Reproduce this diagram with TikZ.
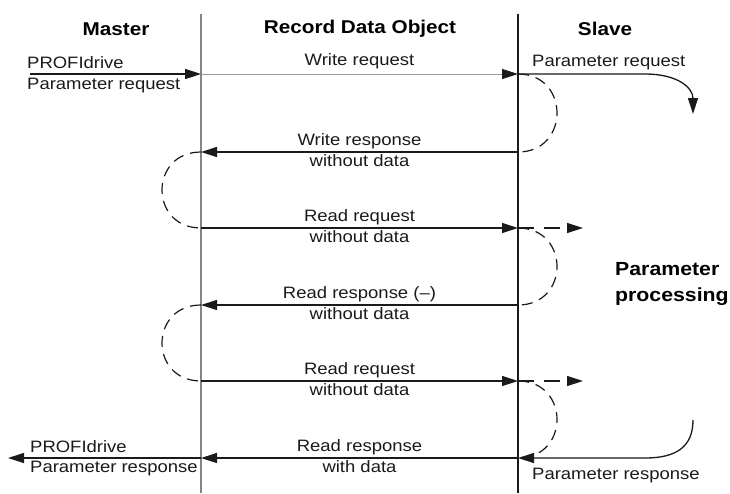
\documentclass[tikz,border=0pt]{standalone}
\usepackage{fontspec}
\setmainfont{Liberation Sans}[FakeStretch=1.12]
\usepackage{tikz}
\usetikzlibrary{arrows.meta, positioning}
\definecolor{lifegray}{HTML}{858585}
\definecolor{reqgray}{HTML}{9a9a9a}
\definecolor{ink}{HTML}{1a1a1a}
\tikzset{
    lifeline/.style={line width=1.5pt},
    conn/.style={
        ink, line width=1.3pt,
        -{Triangle[length=16pt, width=10pt, color=ink]},
    },
    loopback/.style={ink, line width=1.2pt, dash pattern=on 11pt off 7pt},
    probe/.style={ink, line width=1.2pt, dash pattern=on 16pt off 10pt,
        -{Triangle[length=16pt, width=10pt]}},
    head/.style={font=\fontsize{18.5}{22}\selectfont\bfseries, inner sep=0pt},
    lbl/.style={font=\fontsize{16.5}{21}\selectfont, align=center, inner sep=0pt, text=ink},
    side/.style={lbl, align=left, anchor=west},
}

\begin{document}
\begin{tikzpicture}[x=1pt, y=-1pt]
    \useasboundingbox (0,0) rectangle (730,493);

    % lifelines and message rows
    \coordinate (mtop) at (201,14);
    \coordinate (mbot) at (201,493);
    \coordinate (stop) at (518,14);
    \coordinate (sbot) at (518,493);
    \foreach \n/\y in {1/74,2/152,3/228,4/305,5/381,6/458} {
        \coordinate (m\n) at (201,\y);
        \coordinate (s\n) at (518,\y);
    }
    \draw[lifeline, lifegray] (mtop) -- (mbot);
    \draw[lifeline, ink] (stop) -- (sbot);

    \node[head] (master) at (116,29) {Master};
    \node[head] (rdo) at (360,29) {Record Data Object};
    \node[head] (slave) at (605,29) {Slave};

    % write request
    \coordinate (pin) at (30,74);
    \draw[conn, line width=1.6pt] (pin) -- (m1);
    \node[side] (pinA) at (27,63) {PROFIdrive};
    \node[side] (pinB) at (27,86) {Parameter request};
    \draw[conn, reqgray, line width=1pt] (m1) -- (s1) node[lbl, midway, above=5pt] (wreq) {Write request};
    \coordinate (sq) at (693,114);
    \draw[conn] (s1) -- (645,74) .. controls (678,74) and (693,88) .. (sq);
    \node[side] (sreq) at (532,63) {Parameter request};

    % responses and polls
    \draw[conn] (s2) -- (m2) node[lbl, midway, yshift=2pt] (wresp) {Write response\\without data};
    \draw[conn] (m3) -- (s3) node[lbl, midway, yshift=2pt] (rreqA) {Read request\\without data};
    \draw[conn] (s4) -- (m4) node[lbl, midway, yshift=2pt] (rrespA) {Read response (–)\\without data};
    \draw[conn] (m5) -- (s5) node[lbl, midway, yshift=2pt] (rreqB) {Read request\\without data};
    \draw[conn] (s6) -- (m6) node[lbl, midway, yshift=2pt] (rrespB) {Read response\\with data};

    \coordinate (p3) at (583,228);
    \coordinate (p5) at (583,381);
    \draw[probe] (s3) -- (p3);
    \draw[probe] (s5) -- (p5);

    % waiting loops
    \draw[loopback] (s1) .. controls +(52,0) and +(52,0) .. (s2);
    \draw[loopback] (m2) .. controls +(-52,0) and +(-52,0) .. (m3);
    \draw[loopback] (s3) .. controls +(52,0) and +(52,0) .. (s4);
    \draw[loopback] (m4) .. controls +(-52,0) and +(-52,0) .. (m5);
    \draw[loopback] (s5) .. controls +(52,0) and +(52,0) .. (s6);

    \node[head, font=\fontsize{19}{26}\selectfont\bfseries, align=left, anchor=west] (proc) at (615,284) {Parameter\\processing};

    % parameter response
    \coordinate (sr) at (693,420);
    \draw[conn] (sr) .. controls (693,447) and (676,458) .. (645,458) -- (s6);
    \node[side] (sresp) at (532,476) {Parameter response};
    \coordinate (pout) at (8,458);
    \draw[conn] (m6) -- (pout);
    \node[side] (poutA) at (30,447) {PROFIdrive};
    \node[side] (poutB) at (30,469) {Parameter response};
\end{tikzpicture}
\end{document}
